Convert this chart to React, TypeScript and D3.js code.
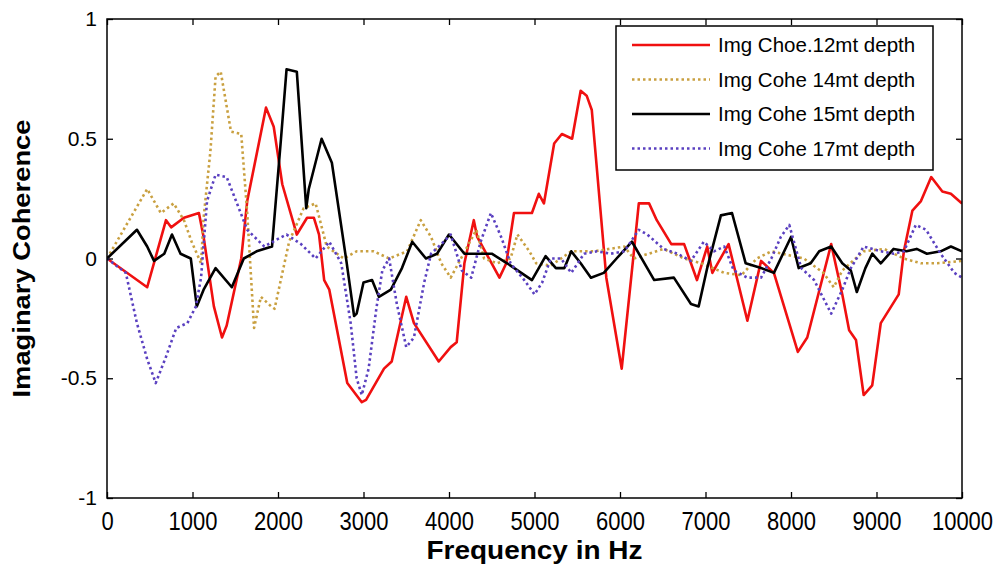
import { useRef, useEffect } from 'react';
import * as d3 from 'd3';

type Pt = [number, number];

const freqTicks = [0, 1000, 2000, 3000, 4000, 5000, 6000, 7000, 8000, 9000, 10000];
const cohTicks = [-1, -0.5, 0, 0.5, 1];

// Img Choe.12mt depth
const depth12: Pt[] = [
  [0, 0], [470, -0.12], [690, 0.16], [750, 0.13], [900, 0.17], [1075, 0.19], [1130, 0.09],
  [1250, -0.2], [1345, -0.33], [1400, -0.28], [1570, 0], [1640, 0.24], [1860, 0.63], [1950, 0.55],
  [2050, 0.31], [2220, 0.1], [2340, 0.17], [2420, 0.17], [2480, 0.1], [2540, -0.09], [2600, -0.13],
  [2810, -0.52], [2980, -0.6], [3030, -0.59], [3240, -0.46], [3330, -0.43], [3500, -0.16],
  [3590, -0.27], [3880, -0.43], [4020, -0.37], [4090, -0.35], [4180, -0.02], [4290, 0.16],
  [4330, 0.09], [4590, -0.08], [4670, -0.02], [4760, 0.19], [4970, 0.19], [5050, 0.27],
  [5110, 0.23], [5230, 0.48], [5320, 0.52], [5440, 0.5], [5540, 0.7], [5610, 0.68], [5670, 0.62],
  [5840, -0.08], [6020, -0.46], [6160, 0.02], [6220, 0.23], [6340, 0.23], [6430, 0.16],
  [6600, 0.06], [6750, 0.06], [6900, -0.09], [7020, 0.05], [7080, -0.06], [7270, 0.06],
  [7490, -0.26], [7650, -0.01], [7800, -0.06], [8080, -0.39], [8190, -0.33], [8470, 0.06],
  [8600, -0.15], [8680, -0.3], [8760, -0.34], [8850, -0.57], [8950, -0.53], [9050, -0.27],
  [9260, -0.15], [9320, 0.03], [9420, 0.2], [9520, 0.24], [9640, 0.34], [9770, 0.28],
  [9870, 0.27], [10000, 0.23],
];

// Img Cohe 14mt depth
const depth14: Pt[] = [
  [0, 0], [470, 0.29], [630, 0.19], [780, 0.23], [900, 0.16], [990, 0.07], [1100, -0.02],
  [1130, 0.17], [1210, 0.45], [1270, 0.76], [1330, 0.78], [1450, 0.53], [1570, 0.52],
  [1640, 0.19], [1720, -0.29], [1800, -0.16], [1920, -0.2], [1960, -0.21], [2130, 0.07],
  [2300, 0.21], [2440, 0.23], [2570, 0.05], [2770, 0], [2920, 0.03], [3120, 0.03], [3300, 0],
  [3510, 0.03], [3670, 0.16], [3790, 0.09], [3910, -0.02], [4020, -0.08], [4140, 0],
  [4320, 0.12], [4410, 0], [4560, -0.02], [4720, 0], [4800, 0.1], [4940, 0.03], [5020, -0.02],
  [5190, -0.03], [5430, 0.03], [5700, 0.03], [6050, 0.05], [6160, 0], [6510, 0.04], [6750, 0],
  [6950, -0.02], [7220, -0.06], [7420, -0.07], [7600, 0], [7770, 0.03], [8150, 0],
  [8380, -0.06], [8500, -0.12], [8600, -0.05], [8850, 0.03], [9090, 0.04], [9320, 0],
  [9520, -0.02], [9710, -0.02], [10000, -0.01],
];

// Img Cohe 15mt depth
const depth15: Pt[] = [
  [0, 0], [350, 0.12], [470, 0.05], [550, -0.01], [670, 0.02], [760, 0.1], [860, 0.02],
  [980, 0], [1050, -0.2], [1130, -0.13], [1270, -0.04], [1460, -0.12], [1600, 0], [1750, 0.03],
  [1930, 0.05], [2035, 0.5], [2100, 0.79], [2220, 0.78], [2330, 0.21], [2360, 0.29],
  [2510, 0.5], [2630, 0.4], [2800, -0.01], [2890, -0.24], [2920, -0.23], [3000, -0.1],
  [3100, -0.09], [3180, -0.16], [3320, -0.13], [3450, -0.04], [3570, 0.07], [3730, 0],
  [3860, 0.02], [4000, 0.1], [4180, 0.02], [4500, 0.02], [4680, -0.02], [4970, -0.09],
  [5130, 0.01], [5250, -0.04], [5350, -0.04], [5430, 0.03], [5540, -0.02], [5660, -0.08],
  [5810, -0.06], [5960, 0], [6140, 0.07], [6400, -0.09], [6630, -0.08], [6830, -0.19],
  [6920, -0.2], [7020, -0.04], [7180, 0.18], [7310, 0.19], [7470, -0.02], [7650, -0.04],
  [7800, -0.06], [8000, 0.09], [8090, -0.04], [8230, -0.02], [8330, 0.03], [8470, 0.05],
  [8600, -0.02], [8700, -0.05], [8770, -0.14], [8870, -0.04], [8950, 0.02], [9050, -0.02],
  [9200, 0.04], [9350, 0.03], [9470, 0.04], [9590, 0.02], [9750, 0.03], [9870, 0.05],
  [10000, 0.03],
];

// Img Cohe 17mt depth
const depth17: Pt[] = [
  [0, 0], [220, -0.06], [350, -0.27], [470, -0.42], [570, -0.52], [690, -0.41], [810, -0.29],
  [940, -0.27], [1040, -0.2], [1100, -0.08], [1170, 0.24], [1270, 0.35], [1400, 0.34],
  [1520, 0.23], [1640, 0.12], [1840, 0.05], [1990, 0.08], [2100, 0.1], [2270, 0.06], [2440, 0],
  [2600, 0.07], [2740, -0.02], [2850, -0.27], [2920, -0.5], [2980, -0.57], [3060, -0.46],
  [3150, -0.21], [3220, -0.05], [3300, 0], [3390, -0.19], [3500, -0.37], [3590, -0.33],
  [3710, -0.1], [3790, 0.02], [3910, 0.06], [4020, 0.1], [4150, -0.05], [4260, -0.08],
  [4370, 0.07], [4490, 0.19], [4610, 0.09], [4720, -0.02], [4880, -0.09], [5000, -0.15],
  [5090, -0.1], [5190, 0], [5310, 0], [5430, -0.06], [5580, 0.02], [5730, 0.03], [5890, 0.02],
  [6050, 0.03], [6220, 0.12], [6320, 0.1], [6510, 0.04], [6670, 0.02], [6830, -0.01],
  [6980, 0.07], [7100, 0.03], [7220, 0.05], [7330, -0.05], [7490, -0.08], [7650, -0.08],
  [7770, 0], [7880, 0.09], [7980, 0.14], [8120, -0.04], [8270, -0.09], [8470, -0.23],
  [8600, -0.13], [8700, -0.04], [8850, 0.05], [9050, 0.03], [9200, 0.02], [9320, 0.03],
  [9460, 0.14], [9580, 0.12], [9750, 0.02], [9910, -0.06], [10000, -0.08],
];

const seriesNames = [
  'Img Choe.12mt depth',
  'Img Cohe 14mt depth',
  'Img Cohe 15mt depth',
  'Img Cohe 17mt depth',
];

const series = [
  { name: seriesNames[0], data: depth12, color: '#f01010', dash: null },
  { name: seriesNames[1], data: depth14, color: '#c9a040', dash: '2.5,3' },
  { name: seriesNames[2], data: depth15, color: '#000000', dash: null },
  { name: seriesNames[3], data: depth17, color: '#5a40c0', dash: '2.5,3' },
];

const Chart = () => {
  const svgRef = useRef<SVGSVGElement>(null);

  useEffect(() => {
    const svg = d3.select(svgRef.current);
    svg.selectAll('*').remove();
    const margin = { top: 19, right: 38, bottom: 75, left: 107 };
    const width = 1000;
    const height = 573;
    const font = 'Arial, "Liberation Sans", sans-serif';

    const x = d3.scaleLinear().domain([0, 10000]).range([margin.left, width - margin.right]);
    const y = d3.scaleLinear().domain([-1, 1]).range([height - margin.bottom, margin.top]);

    svg.append('rect').attr('width', width).attr('height', height).attr('fill', '#fff');

    svg.append('defs').append('clipPath').attr('id', 'plot-clip')
      .append('rect')
      .attr('x', margin.left).attr('y', margin.top)
      .attr('width', x(10000) - x(0)).attr('height', y(-1) - y(1));

    const line = d3.line<Pt>().x(d => x(d[0])).y(d => y(d[1]));

    const plot = svg.append('g').attr('clip-path', 'url(#plot-clip)');
    series.forEach(s => {
      plot.append('path')
        .datum(s.data)
        .attr('fill', 'none')
        .attr('stroke', s.color)
        .attr('stroke-width', 2.6)
        .attr('stroke-linejoin', 'round')
        .attr('stroke-dasharray', s.dash)
        .attr('d', line);
    });

    // axes: ticks inward, box on all sides
    const tick = 6;
    const axisStyle = (g: any) => {
      g.select('.domain').remove();
      g.selectAll('line').attr('stroke', '#000').attr('stroke-width', 1.3);
      g.selectAll('text').attr('fill', '#000').style('font-family', font);
    };

    svg.append('g')
      .attr('transform', `translate(0,${y(-1)})`)
      .call(d3.axisBottom(x).tickValues(freqTicks).tickSize(-tick).tickPadding(12).tickFormat(d3.format('d')))
      .call(axisStyle)
      .call(g => g.selectAll('text').style('font-size', '22px').attr('transform', 'scale(1,1.15)'));

    svg.append('g')
      .attr('transform', `translate(0,${y(1)})`)
      .call(d3.axisTop(x).tickValues(freqTicks).tickSize(-tick).tickFormat(() => ''))
      .call(axisStyle);

    svg.append('g')
      .attr('transform', `translate(${x(0)},0)`)
      .call(d3.axisLeft(y).tickValues(cohTicks).tickSize(-tick).tickPadding(10).tickFormat(d => String(d)))
      .call(axisStyle)
      .call(g => g.selectAll('text').style('font-size', '21px'));

    svg.append('g')
      .attr('transform', `translate(${x(10000)},0)`)
      .call(d3.axisRight(y).tickValues(cohTicks).tickSize(-tick).tickFormat(() => ''))
      .call(axisStyle);

    svg.append('rect')
      .attr('x', x(0)).attr('y', y(1))
      .attr('width', x(10000) - x(0)).attr('height', y(-1) - y(1))
      .attr('fill', 'none').attr('stroke', '#000').attr('stroke-width', 1.5);

    // axis titles
    svg.append('text')
      .attr('x', (x(0) + x(10000)) / 2 + 0)
      .attr('y', 559)
      .attr('text-anchor', 'middle')
      .style('font-family', font).style('font-weight', 'bold').style('font-size', '25px')
      .attr('textLength', 216).attr('lengthAdjust', 'spacingAndGlyphs')
      .text('Frequency in Hz');

    svg.append('text')
      .attr('transform', `translate(30,${y(0)}) rotate(-90)`)
      .attr('text-anchor', 'middle')
      .style('font-family', font).style('font-weight', 'bold').style('font-size', '24px')
      .attr('textLength', 278).attr('lengthAdjust', 'spacingAndGlyphs')
      .text('Imaginary Coherence');

    // legend
    const legend = svg.append('g');
    legend.append('rect')
      .attr('x', 616).attr('y', 26).attr('width', 317).attr('height', 144)
      .attr('fill', '#fff').attr('stroke', '#000').attr('stroke-width', 1.5);
    series.forEach((s, i) => {
      const ly = 45 + i * 34.5;
      legend.append('line')
        .attr('x1', 632).attr('x2', 710).attr('y1', ly).attr('y2', ly)
        .attr('stroke', s.color).attr('stroke-width', 2.6)
        .attr('stroke-dasharray', s.dash);
      legend.append('text')
        .attr('x', 718).attr('y', ly + 7)
        .style('font-family', font).style('font-size', '20.5px')
        .text(s.name);
    });
  }, []);

  return (
    <svg ref={svgRef} width={1000} height={573}
      style={{ position: 'absolute', left: 0, top: 0, display: 'block' }} />
  );
};

export default function App() {
  return <Chart />;
}
